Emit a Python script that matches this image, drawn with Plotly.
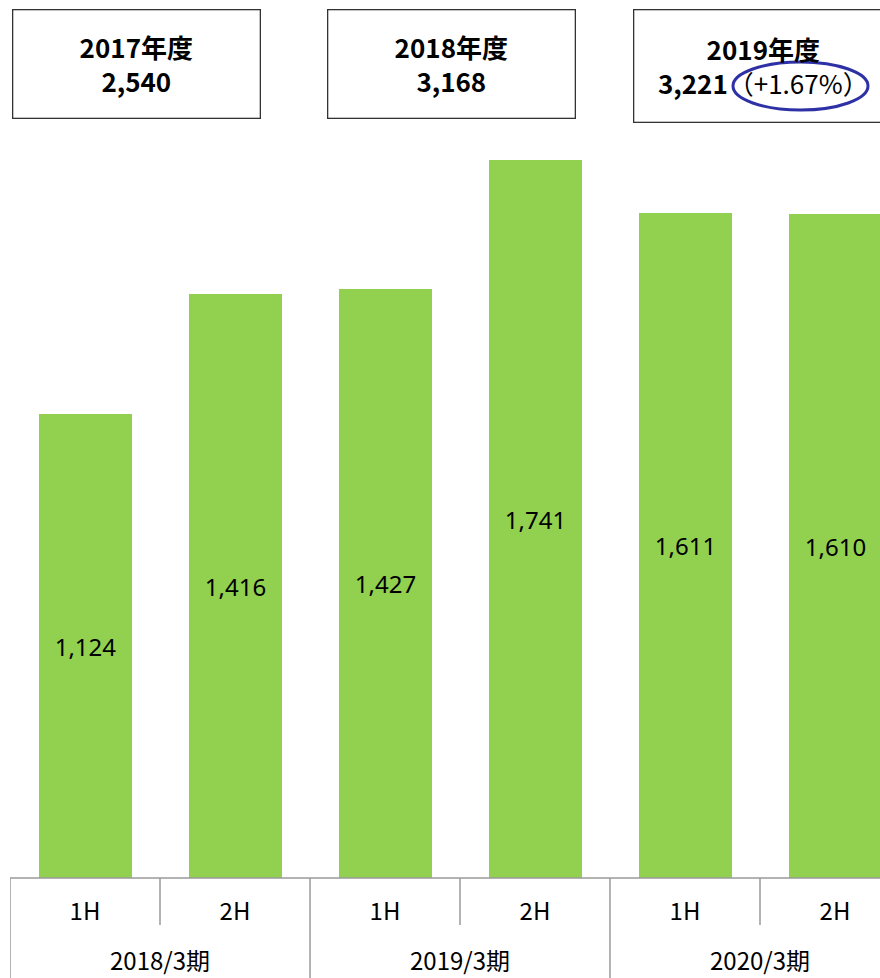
import plotly.graph_objects as go

# data
periods = ["2018/3期", "2018/3期", "2019/3期", "2019/3期", "2020/3期", "2020/3期"]
halves = ["1H", "2H", "1H", "2H", "1H", "2H"]
values = [1124, 1416, 1427, 1741, 1611, 1610]
fy_labels = ["2017年度", "2018年度", "2019年度"]
fy_totals = ["2,540", "3,168", "3,221"]
fy_change = ["", "", "（+1.67%）"]

W, H = 880, 978
ML, MR, MT, MB = 10, 0, 130, 100
pw, ph = W - ML - MR, H - MT - MB

def px(x):  # pixel x -> paper
    return (x - ML) / pw

def py(y):  # pixel y -> paper
    return (H - MB - y) / ph

xs = list(range(len(values)))
fig = go.Figure()
fig.add_trace(go.Bar(
    x=xs, y=values, width=0.62,
    marker=dict(color="#92D050", line=dict(width=0)),
    text=[f"{v:,}" for v in values], textposition="inside",
    insidetextanchor="middle",
    textfont=dict(family="Noto Sans", size=24, color="#000000"),
    hoverinfo="skip",
))

# axis dividers
line_col = "#9a9a9a"
fig.add_shape(type="line", xref="paper", yref="paper", x0=0, x1=1, y0=0, y1=0,
              line=dict(color=line_col, width=1.5))
for i in range(len(values) + 1):
    xb = i - 0.5
    if i % 2 == 0:
        y1 = -MB / ph
    else:
        y1 = py(925)
    fig.add_shape(type="line", xref="x", yref="paper", x0=xb, x1=xb, y0=0, y1=y1,
                  line=dict(color=line_col, width=1.5))

# group labels
groups = []
for i, p in enumerate(periods):
    if not groups or groups[-1][0] != p:
        groups.append([p, [i]])
    else:
        groups[-1][1].append(i)
for name, idx in groups:
    fig.add_annotation(x=sum(idx) / len(idx), xref="x", y=py(959), yref="paper",
                       text=name, showarrow=False, yanchor="middle",
                       font=dict(family="Noto Sans CJK JP", size=24, color="#000000"))

# fiscal year boxes
box_cx = [136, 451, 763]
box_cy = [64.5, 64.5, 66.5]
box_h = [109, 109, 113]
box_w = [246, 246, 258]
for i in range(3):
    txt = f"<b>{fy_labels[i]}</b><br><b>{fy_totals[i]}</b>"
    if fy_change[i]:
        txt = f"<b>{fy_labels[i]}</b><br><b>{fy_totals[i]}</b><span style='font-weight:normal'>{fy_change[i]}</span>"
    fig.add_annotation(x=px(box_cx[i]), y=py(box_cy[i]), xref="paper", yref="paper",
                       text=txt, showarrow=False, xanchor="center", yanchor="middle",
                       width=box_w[i], height=box_h[i] - 2, align="center", valign="middle",
                       bordercolor="#333333", borderwidth=1.3, borderpad=0,
                       font=dict(family="Noto Sans CJK JP", size=26, color="#000000"))

# highlight ellipse
fig.add_shape(type="circle", xref="paper", yref="paper",
              x0=px(733), x1=px(868), y0=py(110), y1=py(62),
              line=dict(color="#2E31A6", width=3))

fig.update_layout(
    width=W, height=H,
    margin=dict(l=ML, r=MR, t=MT, b=MB),
    plot_bgcolor="white", paper_bgcolor="white",
    showlegend=False, bargap=0,
    xaxis=dict(range=[-0.5, -0.5 + pw / 150], tickvals=xs, ticktext=halves,
               showgrid=False, zeroline=False, showline=False, ticks="",
               ticklabelstandoff=17,
               tickfont=dict(family="Noto Sans CJK JP", size=24, color="#000000")),
    yaxis=dict(range=[0, ph / 0.4125], visible=False, showgrid=False),
)

fig.write_html("out.html", config={"displayModeBar": False},
               post_script="document.body.style.margin='0';document.body.style.overflow='hidden';")
